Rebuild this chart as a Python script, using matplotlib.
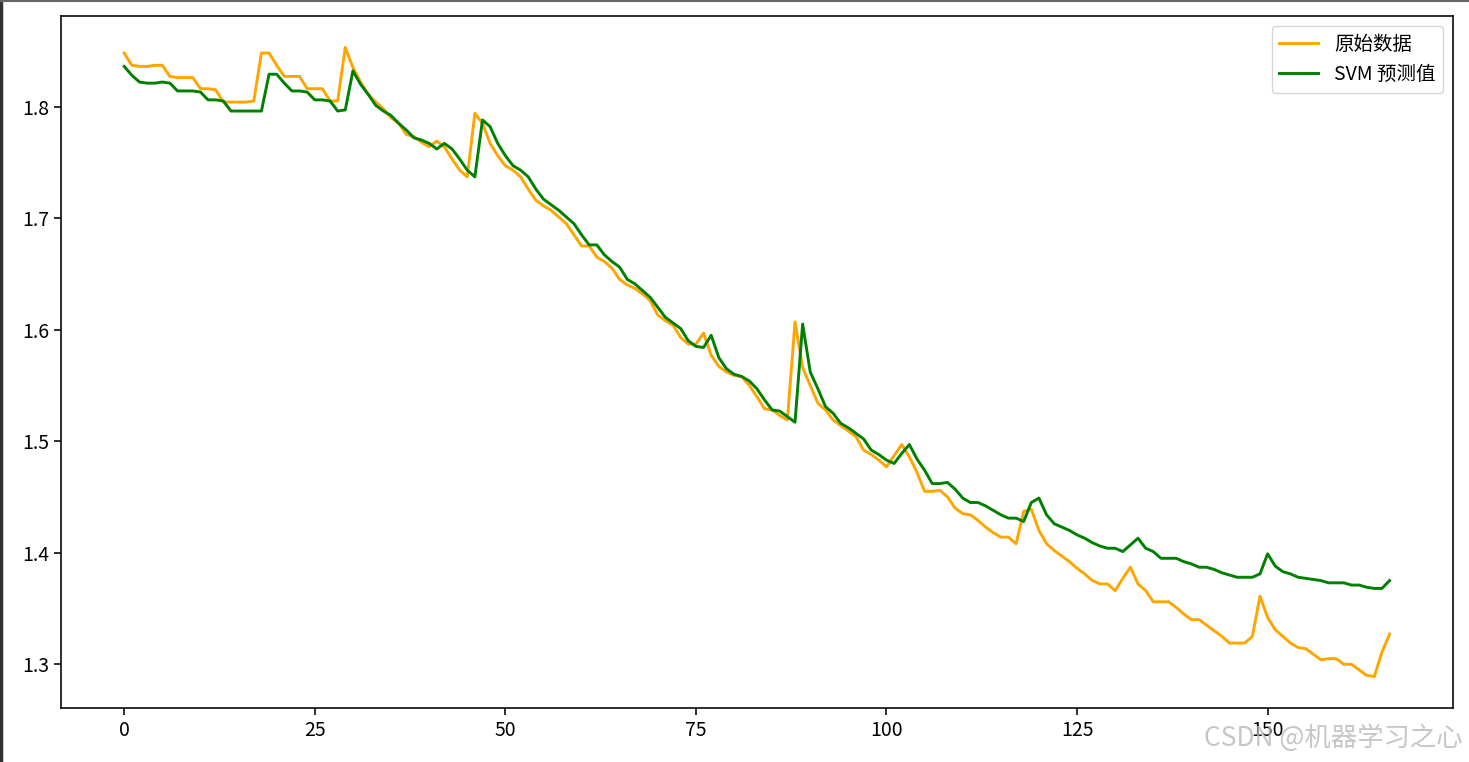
import numpy as np
import matplotlib.pyplot as plt

plt.rcParams['font.family'] = ['Noto Sans CJK SC', 'DejaVu Sans']

original = [1.848, 1.837, 1.836, 1.836, 1.837, 1.837, 1.827, 1.826, 1.826, 1.826,
            1.816, 1.816, 1.815, 1.804, 1.804, 1.804, 1.804, 1.805, 1.848, 1.848,
            1.837, 1.827, 1.827, 1.827, 1.816, 1.816, 1.816, 1.805, 1.805, 1.853,
            1.835, 1.822, 1.811, 1.804, 1.798, 1.790, 1.785, 1.775, 1.773, 1.768,
            1.764, 1.769, 1.764, 1.753, 1.743, 1.737, 1.794, 1.785, 1.767, 1.756,
            1.747, 1.743, 1.737, 1.726, 1.716, 1.711, 1.707, 1.701, 1.695, 1.685,
            1.675, 1.675, 1.665, 1.661, 1.655, 1.645, 1.640, 1.637, 1.632, 1.626,
            1.613, 1.608, 1.604, 1.593, 1.587, 1.587, 1.597, 1.577, 1.567, 1.562,
            1.559, 1.558, 1.550, 1.540, 1.529, 1.528, 1.523, 1.519, 1.607, 1.566,
            1.550, 1.534, 1.528, 1.519, 1.514, 1.509, 1.504, 1.492, 1.488, 1.483,
            1.477, 1.487, 1.497, 1.486, 1.472, 1.455, 1.455, 1.456, 1.450, 1.440,
            1.435, 1.434, 1.429, 1.423, 1.418, 1.414, 1.414, 1.408, 1.437, 1.439,
            1.420, 1.408, 1.402, 1.397, 1.392, 1.386, 1.381, 1.375, 1.372, 1.372,
            1.366, 1.377, 1.387, 1.372, 1.366, 1.356, 1.356, 1.356, 1.351, 1.345,
            1.340, 1.340, 1.335, 1.330, 1.325, 1.319, 1.319, 1.319, 1.325, 1.361,
            1.342, 1.331, 1.325, 1.319, 1.315, 1.314, 1.309, 1.304, 1.305, 1.305,
            1.300, 1.300, 1.295, 1.290, 1.289, 1.311, 1.327]

svm_pred = [1.836, 1.828, 1.822, 1.821, 1.821, 1.822, 1.821, 1.814, 1.814, 1.814,
            1.813, 1.806, 1.806, 1.805, 1.796, 1.796, 1.796, 1.796, 1.796, 1.829,
            1.829, 1.821, 1.814, 1.814, 1.813, 1.806, 1.806, 1.805, 1.796, 1.797,
            1.832, 1.820, 1.811, 1.801, 1.796, 1.792, 1.785, 1.779, 1.772, 1.770,
            1.767, 1.762, 1.767, 1.762, 1.753, 1.743, 1.737, 1.788, 1.782, 1.767,
            1.756, 1.747, 1.743, 1.737, 1.726, 1.717, 1.712, 1.707, 1.701, 1.695,
            1.685, 1.676, 1.676, 1.667, 1.661, 1.656, 1.645, 1.641, 1.635, 1.629,
            1.620, 1.611, 1.606, 1.601, 1.590, 1.585, 1.584, 1.595, 1.575, 1.565,
            1.560, 1.558, 1.554, 1.547, 1.537, 1.528, 1.527, 1.522, 1.517, 1.605,
            1.562, 1.547, 1.531, 1.525, 1.516, 1.512, 1.507, 1.502, 1.492, 1.488,
            1.483, 1.480, 1.489, 1.497, 1.484, 1.474, 1.462, 1.462, 1.463, 1.457,
            1.449, 1.445, 1.445, 1.442, 1.438, 1.434, 1.431, 1.431, 1.428, 1.445,
            1.449, 1.434, 1.426, 1.423, 1.420, 1.416, 1.413, 1.409, 1.406, 1.404,
            1.404, 1.401, 1.407, 1.413, 1.404, 1.401, 1.395, 1.395, 1.395, 1.392,
            1.390, 1.387, 1.387, 1.385, 1.382, 1.380, 1.378, 1.378, 1.378, 1.381,
            1.399, 1.388, 1.383, 1.381, 1.378, 1.377, 1.376, 1.375, 1.373, 1.373,
            1.373, 1.371, 1.371, 1.369, 1.368, 1.368, 1.375]

x = np.arange(len(original))

fig = plt.figure(figsize=(14.69, 7.62), dpi=100)
ax = fig.add_axes([0.0415, 0.0709, 0.9475, 0.9081])
ax.plot(x, original, color='orange', linewidth=2.1, label='原始数据')
ax.plot(x, svm_pred, color='green', linewidth=2.1, label='SVM 预测值')
ax.set_xticks([0, 25, 50, 75, 100, 125, 150])
ax.set_yticks([1.3, 1.4, 1.5, 1.6, 1.7, 1.8])
ax.tick_params(labelsize=14, length=5, width=1.15)
for s in ax.spines.values():
    s.set_linewidth(1.15)
ax.legend(loc='upper right', fontsize=14, handlelength=2.0)

# watermark, as in the screenshot
fig.text(0.996, 0.031, 'CSDN @机器学习之心', ha='right', va='center',
         fontsize=19, color='#b8b8b8', alpha=0.8)
fig.add_artist(plt.Line2D([0.001, 0.001], [0, 1], color='#333333', linewidth=2.5))
fig.add_artist(plt.Line2D([0, 1], [0.999, 0.999], color='#666666', linewidth=1.5))

fig.savefig('out.png', dpi=100)
